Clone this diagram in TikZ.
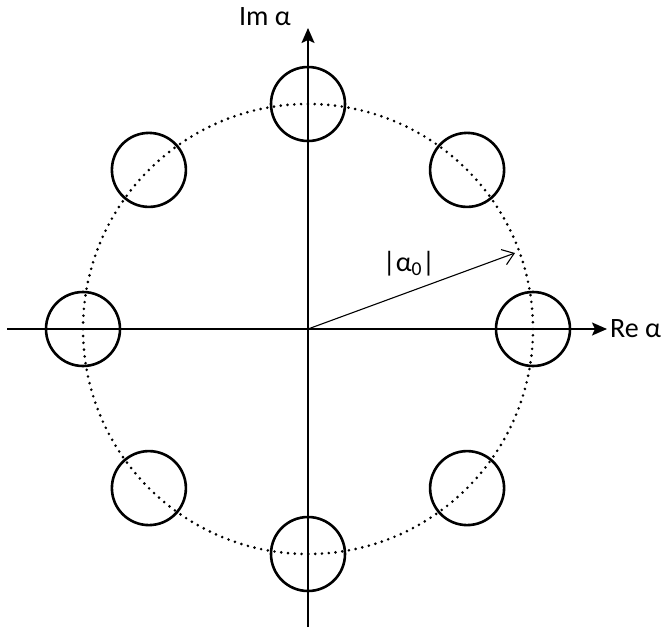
\documentclass[tikz,border=0pt]{standalone}
\usepackage{fontspec}
\setmainfont{Carlito}
\usetikzlibrary{arrows.meta}
\begin{document}
\begin{tikzpicture}[x=1pt,y=-1pt,
  blob/.style={draw,circle,line width=2.6pt,minimum size=74pt,inner sep=0pt},
  axis/.style={line width=1.8pt,-{Stealth[length=15pt,width=13pt,inset=3pt]}},
  ring/.style={line width=2.9pt,line cap=round,dash pattern=on 0pt off 6.8pt},
  vec/.style={line width=1.1pt,-{Straight Barb[length=11pt,width=16pt,line width=1.1pt]}},
  lbl/.style={font=\fontsize{28}{32}\selectfont}]
\useasboundingbox (0,0) rectangle (661,627);
\coordinate (O) at (308,329);
\coordinate (xl) at (7,329);
\coordinate (xr) at (607,329);
\coordinate (yb) at (308,627);
\coordinate (yt) at (308,28);
\draw[ring] (O) circle[radius=225pt];
\foreach \a [count=\i] in {0,45,90,135,180,225,270,315}{
  \node[blob] (c\i) at ([shift={(\a:225pt)}]O) {};
}
\draw[axis] (xl) -- (xr);
\draw[axis] (yb) -- (yt);
\coordinate (tip) at (515,253);
\draw[vec] (O) -- (tip);
\node[lbl,anchor=west,inner sep=0pt] (re) at (610,329) {Re α};
\node[lbl,anchor=east,inner sep=0pt] (im) at (291,17) {Im α};
\node[lbl] (mod) at (409,264) {|α\textsubscript{0}|};
\end{tikzpicture}
\end{document}
